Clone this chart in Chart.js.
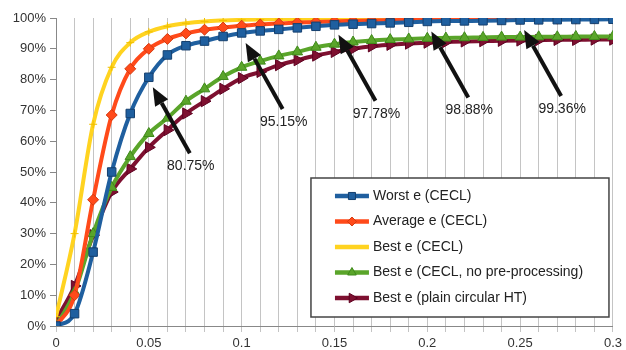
<!DOCTYPE html>
<html>
<head>
<meta charset="utf-8">
<script src="https://cdn.jsdelivr.net/npm/chart.js@4.4.1/dist/chart.umd.min.js"></script>
<style>
  html, body { margin: 0; padding: 0; background: #fff; }
  #wrap { width: 626px; height: 350px; }
</style>
</head>
<body>
<div id="wrap"><canvas id="bieudo" width="626" height="350"></canvas></div>
<script>
// số liệu
const xs = [0, 0.01, 0.02, 0.03, 0.04, 0.05, 0.06, 0.07, 0.08, 0.09, 0.1,
  0.11, 0.12, 0.13, 0.14, 0.15, 0.16, 0.17, 0.18, 0.19, 0.2,
  0.21, 0.22, 0.23, 0.24, 0.25, 0.26, 0.27, 0.28, 0.29, 0.3];

const worst = [0, 4, 24, 50, 69, 80.75, 88, 91, 92.5, 94, 95.15,
  95.8, 96.3, 96.8, 97.3, 97.78, 98.0, 98.2, 98.4, 98.6, 98.88,
  99.0, 99.05, 99.1, 99.2, 99.36, 99.4, 99.45, 99.5, 99.55, 99.6];
const average = [0, 10, 41, 68.5, 83.5, 90, 93.2, 95, 96.2, 96.9, 97.5,
  97.9, 98.2, 98.5, 98.7, 98.9, 99.05, 99.2, 99.3, 99.4, 99.5,
  99.55, 99.6, 99.65, 99.7, 99.72, 99.75, 99.78, 99.8, 99.82, 99.85];
const best = [3, 30, 65.5, 84, 92, 95.5, 97.3, 98.3, 98.9, 99.2, 99.4,
  99.55, 99.65, 99.7, 99.75, 99.8, 99.82, 99.85, 99.87, 99.88, 99.9,
  99.9, 99.91, 99.92, 99.93, 99.94, 99.95, 99.95, 99.96, 99.97, 99.98];
const bestNoPre = [0, 11, 30, 45, 55, 62.5, 67.5, 73, 77, 81, 84,
  86, 87.7, 89, 90.5, 91.5, 92.2, 92.7, 93, 93.2, 93.4,
  93.5, 93.6, 93.7, 93.8, 93.8, 93.9, 93.9, 94, 94, 94];
const bestPlain = [2, 13, 29.5, 43.5, 51, 58, 63.6, 69, 73, 77, 80.5,
  82.5, 84.7, 86.3, 87.8, 89, 90, 90.8, 91.3, 91.7, 92,
  92.2, 92.4, 92.5, 92.6, 92.7, 92.8, 92.9, 92.9, 93, 93];

const yTicks = [0, 10, 20, 30, 40, 50, 60, 70, 80, 90, 100];

// mũi tên chú thích trỏ vào đường Worst e
const arrowAt = [0.05, 0.1, 0.15, 0.2, 0.25];
const arrowText = ["80.75%", "95.15%", "97.78%", "98.88%", "99.36%"];

const FONT = "'Liberation Sans', Arial, sans-serif";

function pts(ys) {
  return xs.map((x, i) => ({ x: x, y: ys[i] }));
}

function ds(label, ys, color, border, style, radius, rot) {
  return {
    label: label,
    data: pts(ys),
    borderColor: color,
    backgroundColor: color,
    pointBackgroundColor: color,
    pointBorderColor: border,
    pointBorderWidth: 1,
    pointStyle: style,
    pointRadius: radius,
    pointRotation: rot || 0,
    borderWidth: 4,
    cubicInterpolationMode: "monotone",
  };
}

// vẽ mũi tên + nhãn
const arrowPlugin = {
  id: "arrows",
  afterDatasetsDraw(chart) {
    const c = chart.ctx;
    const sx = chart.scales.x, sy = chart.scales.y;
    c.save();
    arrowAt.forEach((xv, k) => {
      const i = xs.indexOf(xv);
      const px = sx.getPixelForValue(xv);
      const py = sy.getPixelForValue(worst[i]);
      const tipX = px + 4, tipY = py + 10;
      const tailX = px + 41, tailY = py + 76;
      const ang = Math.atan2(tipY - tailY, tipX - tailX);
      const hl = 18, hw = 7.5;
      const bx = tipX - hl * Math.cos(ang), by = tipY - hl * Math.sin(ang);
      c.strokeStyle = "#111";
      c.fillStyle = "#111";
      c.lineWidth = 4;
      c.beginPath();
      c.moveTo(tailX, tailY);
      c.lineTo(bx, by);
      c.stroke();
      c.beginPath();
      c.moveTo(tipX, tipY);
      c.lineTo(bx + hw * Math.sin(ang), by - hw * Math.cos(ang));
      c.lineTo(bx - hw * Math.sin(ang), by + hw * Math.cos(ang));
      c.closePath();
      c.fill();
      c.font = "14px " + FONT;
      c.fillStyle = "#222";
      c.textAlign = "center";
      c.textBaseline = "middle";
      c.fillText(arrowText[k], px + 42, py + 89);
    });
    c.restore();
  },
};

// chú giải trong vùng biểu đồ
const legendPlugin = {
  id: "boxLegend",
  afterDraw(chart) {
    const c = chart.ctx;
    const a = chart.chartArea;
    const w = 298, h = 139;
    const left = a.right - 4 - w, top = a.bottom - 9 - h;
    c.save();
    c.fillStyle = "#fff";
    c.fillRect(left, top, w, h);
    c.strokeStyle = "#444";
    c.lineWidth = 1.5;
    c.strokeRect(left, top, w, h);
    chart.data.datasets.forEach((d, i) => {
      const y = top + 18 + i * 25.5;
      c.strokeStyle = d.borderColor;
      c.lineWidth = 4.5;
      c.beginPath();
      c.moveTo(left + 24, y);
      c.lineTo(left + 58, y);
      c.stroke();
      if (d.label !== "Best e (CECL)" && Chart.helpers && Chart.helpers.drawPoint) {
        c.fillStyle = d.pointBackgroundColor;
        c.strokeStyle = d.pointBorderColor;
        c.lineWidth = 1;
        Chart.helpers.drawPoint(c, {
          pointStyle: d.pointStyle,
          radius: d.pointRadius - 1,
          rotation: d.pointRotation,
          borderWidth: 1,
        }, left + 41, y);
      }
      c.font = "14px " + FONT;
      c.fillStyle = "#222";
      c.textAlign = "left";
      c.textBaseline = "middle";
      c.fillText(d.label, left + 62, y);
    });
    c.restore();
  },
};

new Chart(document.getElementById("bieudo"), {
  type: "line",
  data: {
    datasets: [
      ds("Worst e (CECL)", worst, "#1f5f9f", "#143f6e", "rect", 6),
      ds("Average e (CECL)", average, "#ff4a1a", "#d43a10", "rectRot", 5.5),
      ds("Best e (CECL)", best, "#ffd320", "#f0c000", "cross", 4),
      ds("Best e (CECL, no pre-processing)", bestNoPre, "#5aa52a", "#3f8a1a", "triangle", 6),
      ds("Best e (plain circular HT)", bestPlain, "#7e1030", "#5e0020", "triangle", 6.5, 90),
    ],
  },
  options: {
    responsive: false,
    devicePixelRatio: 1,
    animation: false,
    layout: { padding: { top: 18, right: 12, left: 0, bottom: 0 } },
    scales: {
      x: {
        type: "linear",
        min: 0,
        max: 0.3,
        afterFit(s) { s.height = 24; },
        grid: {
          color: "#c4c4c4",
          lineWidth: 1,
          drawTicks: true,
          tickLength: 6,
        },
        border: { color: "#888", width: 1 },
        ticks: {
          stepSize: 0.01,
          maxTicksLimit: 100,
          autoSkip: false,
          maxRotation: 0,
          padding: 4,
          color: "#333",
          font: { family: FONT, size: 13 },
          callback: function (v) {
            const n = Math.round(v * 100);
            if (n % 5 !== 0) return "";
            return String(n / 100);
          },
        },
      },
      y: {
        min: 0,
        max: 100,
        afterFit(s) { s.width = 56; },
        afterBuildTicks(s) { s.ticks = yTicks.map((v) => ({ value: v })); },
        grid: {
          drawOnChartArea: false,
          drawTicks: true,
          tickLength: 6,
          color: "#888",
        },
        border: { color: "#888", width: 1 },
        ticks: {
          padding: 4,
          color: "#333",
          font: { family: FONT, size: 13 },
          callback: function (v) { return v + "%"; },
        },
      },
    },
    plugins: {
      legend: { display: false },
      tooltip: { enabled: false },
    },
  },
  plugins: [arrowPlugin, legendPlugin],
});
</script>
</body>
</html>
